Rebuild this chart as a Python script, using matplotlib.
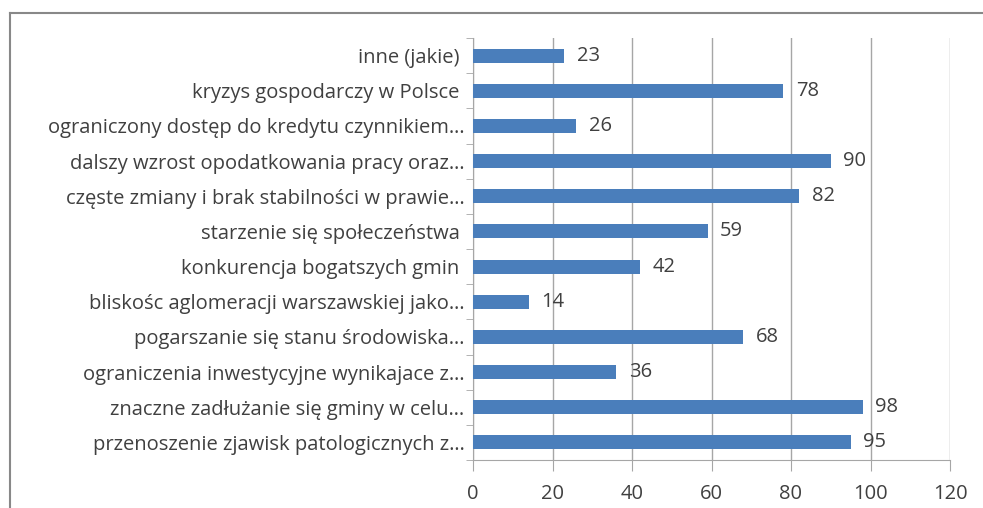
import numpy as np
import matplotlib.pyplot as plt
from matplotlib.lines import Line2D

# categories top to bottom, as in the picture
labels = [
    'inne (jakie) ',
    'kryzys gospodarczy w Polsce ',
    'ograniczony dostęp do kredytu czynnikiem…',
    'dalszy wzrost opodatkowania pracy oraz…',
    'częste zmiany i brak stabilności w prawie…',
    'starzenie się społeczeństwa ',
    'konkurencja bogatszych gmin ',
    'bliskośc aglomeracji warszawskiej jako…',
    'pogarszanie się stanu środowiska…',
    'ograniczenia inwestycyjne wynikajace z…',
    'znaczne zadłużanie się gminy w celu…',
    'przenoszenie zjawisk patologicznych z…',
]
values = [23, 78, 26, 90, 82, 59, 42, 14, 68, 36, 98, 95]
xticks = [0, 20, 40, 60, 80, 100, 120]

plt.rcParams['font.family'] = ['Open Sans', 'DejaVu Sans']
txt_col = '#404040'
bar_col = '#4A7EBB'
grid_col = '#A6A6A6'
fs = 14.5

fig = plt.figure(figsize=(9.83, 5.08), dpi=100)
ax = fig.add_axes([473/983, 1 - 460/508, (950 - 473)/983, (460 - 38)/508])

n = len(labels)
y = np.arange(n)[::-1]
ax.barh(y, values, height=0.4, color=bar_col, zorder=3)
for yi, v in zip(y, values):
    ax.text(v + 3.2, yi, str(v), va='center', ha='left', fontsize=fs, color=txt_col, zorder=4)

ax.set_xlim(0, 120)
ax.set_ylim(-0.5, n - 0.5)
ax.set_xticks(xticks)
ax.set_xticklabels([str(t) for t in xticks], fontsize=fs, color=txt_col)
ax.set_yticks(y)
ax.set_yticklabels(labels, fontsize=fs, color=txt_col)
ax.tick_params(axis='y', length=0, pad=6)
ax.tick_params(axis='x', length=8, color=grid_col, pad=9)
ax.set_yticks(np.arange(n + 1) - 0.5, minor=True)
ax.tick_params(axis='y', which='minor', length=5, color=grid_col)
ax.grid(axis='x', color=grid_col, linewidth=1, zorder=0)

for s in ['top', 'right']:
    ax.spines[s].set_visible(False)
ax.spines['left'].set_color(grid_col)
ax.spines['bottom'].set_color(grid_col)

# outer chart border (top and left)
fig.add_artist(Line2D([10/983, 1], [1 - 13/508, 1 - 13/508], color='#888888', linewidth=1.5))
fig.add_artist(Line2D([10/983, 10/983], [0, 1 - 13/508], color='#888888', linewidth=1.5))

fig.savefig('out.png', dpi=100)
